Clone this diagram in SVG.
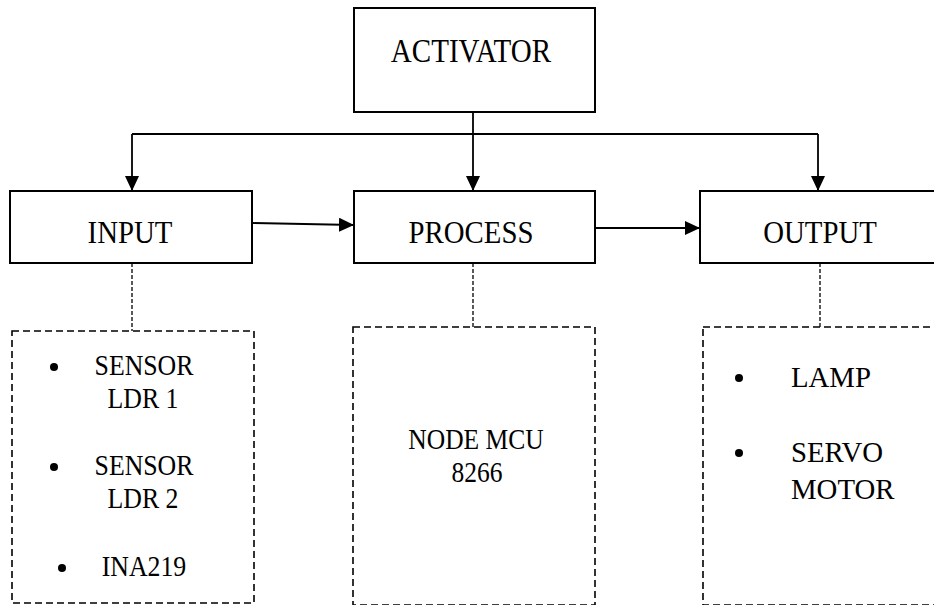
<svg xmlns="http://www.w3.org/2000/svg" width="934" height="605" viewBox="0 0 934 605">
  <style>
    .box { fill: #ffffff; stroke: #000000; stroke-width: 2; }
    .dbox { fill: none; stroke: #000000; stroke-width: 1.6; stroke-dasharray: 7 4; }
    .wire { fill: none; stroke: #000000; stroke-width: 1.8; }
    .dwire { fill: none; stroke: #000000; stroke-width: 1.3; stroke-dasharray: 4 2; }
    .lbl { fill: #000000; text-anchor: middle; }
    .item { fill: #000000; }
    .dot { fill: #000000; }
  </style>
  <defs>
    <marker id="arrow" viewBox="0 0 15 14" refX="15" refY="7" markerWidth="15" markerHeight="14" markerUnits="userSpaceOnUse" orient="auto">
      <path d="M0,0 L15,7 L0,14 z" fill="#000000"/>
    </marker>
  </defs>

  <rect width="934" height="605" fill="#ffffff"/>

  <!-- connectors -->
  <g id="connectors">
    <line class="wire" x1="132" y1="134" x2="818" y2="134"/>
    <line class="wire" x1="132" y1="134" x2="132" y2="191" marker-end="url(#arrow)"/>
    <line class="wire" x1="473" y1="112" x2="473" y2="191" marker-end="url(#arrow)"/>
    <line class="wire" x1="818" y1="134" x2="818" y2="191" marker-end="url(#arrow)"/>
    <line class="wire" x1="253" y1="223" x2="354" y2="225" marker-end="url(#arrow)"/>
    <line class="wire" x1="595" y1="228" x2="700" y2="228" marker-end="url(#arrow)"/>
    <line class="dwire" x1="132" y1="263" x2="132" y2="331"/>
    <line class="dwire" x1="473" y1="263" x2="473" y2="327"/>
    <line class="dwire" x1="820" y1="263" x2="820" y2="327"/>
  </g>

  <g font-family="'Liberation Serif', 'DejaVu Serif', serif">
    <g id="activator">
      <rect class="box" x="354" y="8" width="241" height="104"/>
      <text class="lbl" font-size="33" transform="translate(471,62) scale(0.88,1)">ACTIVATOR</text>
    </g>

    <g id="input">
      <rect class="box" x="10" y="191" width="242" height="72"/>
      <text class="lbl" font-size="32" transform="translate(130,243) scale(0.9,1)">INPUT</text>
    </g>

    <g id="process">
      <rect class="box" x="354" y="191" width="241" height="72"/>
      <text class="lbl" font-size="32" transform="translate(471,243) scale(0.9,1)">PROCESS</text>
    </g>

    <g id="output">
      <rect class="box" x="700" y="191" width="260" height="72"/>
      <text class="lbl" font-size="32" transform="translate(820,243) scale(0.9,1)">OUTPUT</text>
    </g>

    <g id="input-detail">
      <rect class="dbox" x="12" y="331" width="242" height="272"/>
      <circle class="dot" cx="54" cy="367" r="4"/>
      <text class="lbl" font-size="29" transform="translate(144,375) scale(0.89,1)">SENSOR</text>
      <text class="lbl" font-size="29" transform="translate(143,408) scale(0.89,1)">LDR 1</text>
      <circle class="dot" cx="54" cy="467" r="4"/>
      <text class="lbl" font-size="29" transform="translate(144,475) scale(0.89,1)">SENSOR</text>
      <text class="lbl" font-size="29" transform="translate(143,508) scale(0.89,1)">LDR 2</text>
      <circle class="dot" cx="62" cy="568" r="4"/>
      <text class="lbl" font-size="29" transform="translate(144,576) scale(0.89,1)">INA219</text>
    </g>

    <g id="process-detail">
      <rect class="dbox" x="353" y="327" width="242" height="278"/>
      <text class="lbl" font-size="29" transform="translate(476,449) scale(0.88,1)">NODE MCU</text>
      <text class="lbl" font-size="29" transform="translate(477,482) scale(0.88,1)">8266</text>
    </g>

    <g id="output-detail">
      <rect class="dbox" x="703" y="327" width="260" height="278"/>
      <circle class="dot" cx="739" cy="378" r="4"/>
      <text class="item" font-size="30" transform="translate(791,387) scale(0.96,1)">LAMP</text>
      <circle class="dot" cx="739" cy="453" r="4"/>
      <text class="item" font-size="30" transform="translate(791,462) scale(0.96,1)">SERVO</text>
      <text class="item" font-size="30" transform="translate(791,499) scale(0.96,1)">MOTOR</text>
    </g>
  </g>
</svg>
